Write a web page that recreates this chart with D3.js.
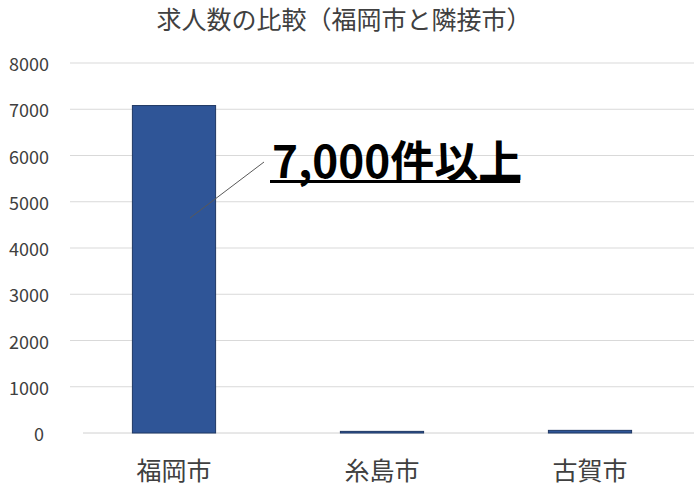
<!DOCTYPE html>
<html><head><meta charset="utf-8">
<script src="https://cdn.jsdelivr.net/npm/d3@7"></script>
<style>body{margin:0;background:#fff}svg{display:block}</style>
</head><body>
<script>
const categories = ["福岡市", "糸島市", "古賀市"];
const values = [7080, 35, 57];
const yTicks = [0, 1000, 2000, 3000, 4000, 5000, 6000, 7000, 8000];
const titleText = "求人数の比較（福岡市と隣接市）";
const annotationText = "7,000件以上";

const W = 700, H = 490;
const font = "'Noto Sans CJK JP', 'Noto Sans', sans-serif";
const svg = d3.select("body").append("svg").attr("width", W).attr("height", H);

const x = d3.scaleBand().domain(categories).range([70, 694]).paddingInner(0.6).paddingOuter(0.3);
const y = d3.scaleLinear().domain([0, 8000]).range([433, 63]);

// grid
svg.append("g").selectAll("line").data(yTicks.filter(d => d > 0)).join("line")
  .attr("x1", 70).attr("x2", 694)
  .attr("y1", d => y(d)).attr("y2", d => y(d))
  .attr("stroke", "#d9d9d9").attr("stroke-width", 1);
svg.append("line").attr("x1", 83).attr("x2", 694).attr("y1", y(0)).attr("y2", y(0))
  .attr("stroke", "#d0d0d0").attr("stroke-width", 1);

// y tick labels
svg.append("g").selectAll("text").data(yTicks).join("text")
  .attr("x", d => d === 0 ? 44 : 49).attr("y", d => y(d))
  .attr("dominant-baseline", "central").attr("text-anchor", "end")
  .attr("font-family", font).attr("font-size", 18).attr("fill", "#404040")
  .text(d => d);

// bars
svg.append("g").selectAll("rect").data(categories).join("rect")
  .attr("x", d => x(d)).attr("width", x.bandwidth())
  .attr("y", (d, i) => y(values[i])).attr("height", (d, i) => y(0) - y(values[i]))
  .attr("fill", "#2F5597").attr("stroke", "#1F3864").attr("stroke-width", 1);

// x labels
svg.append("g").selectAll("text").data(categories).join("text")
  .attr("x", d => x(d) + x.bandwidth() / 2).attr("y", 480)
  .attr("text-anchor", "middle").attr("font-family", font).attr("font-size", 25)
  .attr("fill", "#404040").text(d => d);

// title
svg.append("text").attr("x", 344).attr("y", 29).attr("text-anchor", "middle")
  .attr("font-family", font).attr("font-size", 25).attr("fill", "#404040").text(titleText);

// annotation
svg.append("line").attr("x1", 190).attr("y1", 218).attr("x2", 264).attr("y2", 162)
  .attr("stroke", "#595959").attr("stroke-width", 1);
const ann = svg.append("text").attr("x", 272).attr("y", 178)
  .attr("font-family", font).attr("font-size", 44).attr("font-weight", "bold")
  .attr("fill", "#000").text(annotationText);
const bb = ann.node().getBBox();
svg.append("rect").attr("x", 270).attr("y", 180).attr("width", bb.width).attr("height", 3).attr("fill", "#000");
</script>
</body></html>
